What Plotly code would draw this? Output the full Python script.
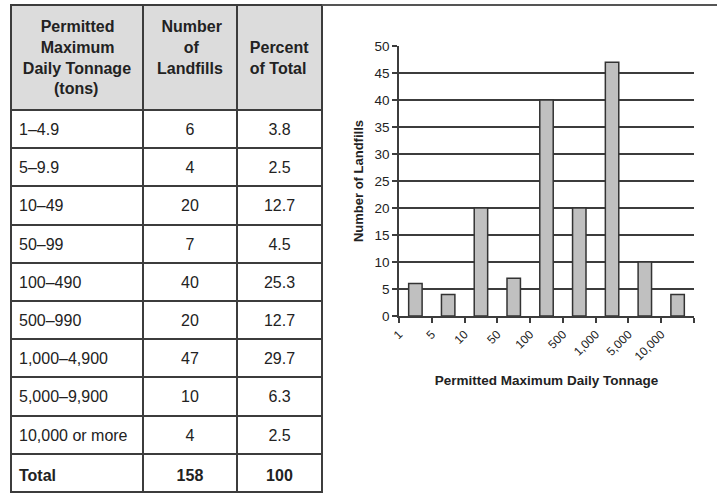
import plotly.graph_objects as go

# ---- data ----
ranges = ["1–4.9", "5–9.9", "10–49", "50–99", "100–490", "500–990",
          "1,000–4,900", "5,000–9,900", "10,000 or more"]
counts = [6, 4, 20, 7, 40, 20, 47, 10, 4]
percents = [3.8, 2.5, 12.7, 4.5, 25.3, 12.7, 29.7, 6.3, 2.5]
total_label = "Total"
total_count = 158
total_percent = 100
tick_labels = ["1", "5", "10", "50", "100", "500", "1,000", "5,000", "10,000", ""]
header_lines = [["Permitted", "Maximum", "Daily Tonnage", "(tons)"],
                ["Number", "of", "Landfills"],
                ["Percent", "of Total"]]

W, H = 717, 498
FONT = "Liberation Sans, Arial, sans-serif"
TXT = "#222222"
LINE = "#3c3c3c"
NONE = "rgba(0,0,0,0)"
NBSP = "\u00a0"

# Arial/Liberation Sans Bold advance widths (em), used to centre header lines
BOLD_W = {"P": .667, "e": .556, "r": .389, "m": .889, "i": .278, "t": .333, "d": .611,
          "M": .833, "a": .556, "x": .556, "u": .611, "D": .722, "l": .278, "y": .556,
          " ": .278, "T": .611, "o": .611, "n": .611, "g": .611, "(": .333, ")": .333,
          "s": .556, "N": .722, "b": .611, "f": .333, "L": .611, "c": .556}


def centred(lines, lead_blank=False):
    widths = [sum(BOLD_W.get(ch, .556) for ch in ln) for ln in lines]
    mx = max(widths)
    out = [NBSP * int(round((mx - w) / 2 / .278)) + ln for ln, w in zip(lines, widths)]
    if lead_blank:
        out = [NBSP] + out
    return "<br>".join(out)


header_vals = [centred(header_lines[0]), centred(header_lines[1]),
               centred(header_lines[2], lead_blank=True)]

col1 = ranges + [f"<b>{total_label}</b>"]
col2 = [str(c) for c in counts] + [f"<b>{total_count}</b>"]
col3 = [f"{p:.1f}" for p in percents] + [f"<b>{total_percent}</b>"]

TOP, HDR_H, ROW_H, TXT_DROP = 5, 105, 38.2, 5
X0, X1 = 11, 322
COLW = [132, 94, 85]

# grid / fills of the table
table_grid = go.Table(
    domain=dict(x=[X0 / W, X1 / W], y=[0, 1 - TOP / H]),
    columnwidth=COLW,
    header=dict(values=["", "", ""], fill_color="#dcdcdc",
                line=dict(color=LINE, width=2), height=HDR_H),
    cells=dict(values=[[""] * len(col1)] * 3, fill_color="white",
               line=dict(color=LINE, width=2), height=ROW_H),
    hoverinfo="skip",
)
# text of the table (drawn slightly lower so it sits centred in each row)
table_text = go.Table(
    domain=dict(x=[X0 / W, X1 / W], y=[0, 1 - (TOP + TXT_DROP) / H]),
    columnwidth=COLW,
    header=dict(
        values=header_vals, fill_color=NONE, line=dict(color=NONE, width=0),
        align="center", height=HDR_H,
        font=dict(family=FONT, size=16, color=TXT, weight="bold"),
    ),
    cells=dict(
        values=[col1, col2, col3], fill_color=NONE, line=dict(color=NONE, width=0),
        align=["left", "center", "center"], height=ROW_H,
        font=dict(family=FONT, size=16, color=TXT),
    ),
    hoverinfo="skip",
)

xpos = [i + 0.5 for i in range(len(counts))]
bars = go.Bar(
    x=xpos, y=counts, width=0.41,
    marker=dict(color="#c0c0c0", line=dict(color="#333333", width=1.5)),
    xaxis="x", yaxis="y", showlegend=False, hoverinfo="skip",
)

fig = go.Figure([table_grid, table_text, bars])
fig.update_layout(
    width=W, height=H, autosize=False,
    margin=dict(l=0, r=0, t=0, b=0),
    paper_bgcolor="white", plot_bgcolor="white",
    font=dict(family=FONT, color=TXT),
    xaxis=dict(
        domain=[399 / W, 694 / W], range=[0, len(counts)], automargin=False,
        tickmode="array", tickvals=list(range(len(tick_labels))), ticktext=tick_labels,
        tickangle=-45, ticks="outside", ticklen=5, tickwidth=1.5, tickcolor=LINE,
        showline=True, linecolor=LINE, linewidth=1.5, showgrid=False, zeroline=False,
        tickfont=dict(size=12, color=TXT),
        title=dict(text="<b>Permitted Maximum Daily Tonnage</b>",
                   font=dict(size=13.5, color=TXT), standoff=13),
        fixedrange=True,
    ),
    yaxis=dict(
        domain=[1 - 316 / H, 1 - 46 / H], range=[0, 50], dtick=5, automargin=False,
        ticks="outside", ticklen=5, tickwidth=1.5, tickcolor=LINE,
        showline=True, linecolor=LINE, linewidth=1.5,
        showgrid=True, gridcolor=LINE, gridwidth=1.5, zeroline=False,
        tickfont=dict(size=13.5, color=TXT),
        title=dict(text="<b>Number of Landfills</b>", font=dict(size=13, color=TXT), standoff=8),
        fixedrange=True,
    ),
    shapes=[dict(type="line", xref="paper", yref="paper",
                 x0=X1 / W, x1=1, y0=1 - TOP / H, y1=1 - TOP / H,
                 line=dict(color="#555555", width=2))],
)

fig.write_html("out.html", config={"displayModeBar": False, "responsive": False},
               post_script="document.body.style.margin='0';")
